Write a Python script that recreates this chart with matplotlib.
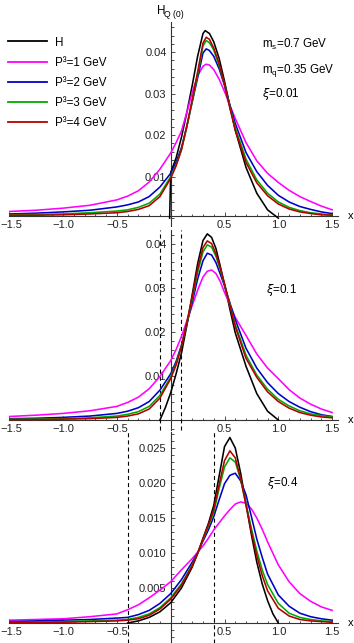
import matplotlib
matplotlib.use('Agg')
import matplotlib.pyplot as plt
import matplotlib.transforms as mtransforms
from matplotlib.ticker import FixedLocator, FixedFormatter, MultipleLocator
from matplotlib.lines import Line2D

plt.rcParams['font.family'] = ['Liberation Sans', 'DejaVu Sans']
plt.rcParams['mathtext.fontset'] = 'dejavusans'

# ---------------- data ----------------
xi_values = [0.01, 0.1, 0.4]
series_labels = ['H', 'P³=1 GeV', 'P³=2 GeV', 'P³=3 GeV', 'P³=4 GeV']

x_grid1 = [-1.5, -1.25, -1.0, -0.75, -0.5, -0.4, -0.3, -0.2, -0.1, 0.0, 0.05, 0.1, 0.15, 0.2, 0.25, 0.3,
           0.33, 0.36, 0.4, 0.45, 0.5, 0.55, 0.6, 0.7, 0.8, 0.9, 1.0, 1.1, 1.2, 1.3, 1.4, 1.5]
p1_xi1 = [0.0016, 0.0019, 0.0024, 0.0031, 0.0044, 0.0053, 0.0066, 0.0087, 0.0118, 0.0157, 0.0182, 0.0210,
          0.0255, 0.0303, 0.0343, 0.0366, 0.0371, 0.0369, 0.0358, 0.0335, 0.0305, 0.0272, 0.0240, 0.0182,
          0.0138, 0.0108, 0.0086, 0.0067, 0.0052, 0.0040, 0.0029, 0.0020]
p2_xi1 = [0.0010, 0.0012, 0.0015, 0.0019, 0.0027, 0.0032, 0.0039, 0.0052, 0.0075, 0.0108, 0.0135, 0.0170,
          0.0222, 0.0280, 0.0338, 0.0398, 0.0408, 0.0404, 0.0390, 0.0360, 0.0320, 0.0272, 0.0228, 0.0158,
          0.0112, 0.0079, 0.0055, 0.0039, 0.0028, 0.0021, 0.0015, 0.0011]
p3_xi1 = [0.0008, 0.0009, 0.0010, 0.0013, 0.0017, 0.0020, 0.0026, 0.0036, 0.0058, 0.0100, 0.0128, 0.0165,
          0.0220, 0.0282, 0.0345, 0.0415, 0.0428, 0.0423, 0.0405, 0.0368, 0.0322, 0.0268, 0.0218, 0.0142,
          0.0092, 0.0060, 0.0039, 0.0026, 0.0018, 0.0013, 0.0010, 0.0008]
p4_xi1 = [0.0007, 0.0007, 0.0008, 0.0010, 0.0013, 0.0016, 0.0021, 0.0030, 0.0052, 0.0096, 0.0126, 0.0165,
          0.0222, 0.0286, 0.0352, 0.0422, 0.0436, 0.0431, 0.0410, 0.0372, 0.0322, 0.0265, 0.0212, 0.0134,
          0.0085, 0.0054, 0.0034, 0.0022, 0.0015, 0.0011, 0.0008, 0.0007]
h_x1 = [-0.01, 0.0, 0.05, 0.1, 0.15, 0.2, 0.25, 0.3, 0.32, 0.36, 0.4, 0.45, 0.5, 0.55, 0.6, 0.7, 0.8, 0.9, 1.0]
h_y1 = [0.0, 0.0110, 0.0145, 0.0195, 0.0255, 0.0320, 0.0390, 0.0445, 0.0452, 0.0445, 0.0425, 0.0385,
        0.0330, 0.0270, 0.0212, 0.0122, 0.0060, 0.0020, 0.0]

x_grid2 = [-1.5, -1.25, -1.0, -0.75, -0.5, -0.4, -0.3, -0.2, -0.1, 0.0, 0.05, 0.1, 0.15, 0.2, 0.25, 0.3,
           0.34, 0.38, 0.42, 0.46, 0.5, 0.55, 0.6, 0.7, 0.8, 0.9, 1.0, 1.1, 1.2, 1.3, 1.4, 1.5]
p1_xi2 = [0.0008, 0.0011, 0.0015, 0.0021, 0.0031, 0.0040, 0.0052, 0.0071, 0.0099, 0.0135, 0.0160, 0.0190,
          0.0225, 0.0260, 0.0295, 0.0325, 0.0338, 0.0341, 0.0333, 0.0315, 0.0290, 0.0262, 0.0233, 0.0192,
          0.0150, 0.0118, 0.0094, 0.0069, 0.0050, 0.0036, 0.0025, 0.0017]
p2_xi2 = [0.0003, 0.0004, 0.0006, 0.0009, 0.0015, 0.0020, 0.0028, 0.0042, 0.0068, 0.0105, 0.0133, 0.0170,
          0.0218, 0.0268, 0.0320, 0.0362, 0.0379, 0.0375, 0.0358, 0.0332, 0.0305, 0.0266, 0.0228, 0.0163,
          0.0118, 0.0085, 0.0060, 0.0042, 0.0029, 0.0019, 0.0012, 0.0008]
p3_xi2 = [0.0002, 0.0002, 0.0003, 0.0005, 0.0009, 0.0013, 0.0019, 0.0031, 0.0056, 0.0098, 0.0128, 0.0168,
          0.0220, 0.0275, 0.0335, 0.0382, 0.0398, 0.0393, 0.0372, 0.0342, 0.0308, 0.0262, 0.0217, 0.0147,
          0.0102, 0.0070, 0.0047, 0.0032, 0.0021, 0.0014, 0.0010, 0.0007]
p4_xi2 = [0.0001, 0.0001, 0.0002, 0.0003, 0.0006, 0.0009, 0.0014, 0.0025, 0.0050, 0.0094, 0.0125, 0.0167,
          0.0222, 0.0280, 0.0343, 0.0392, 0.0407, 0.0401, 0.0378, 0.0346, 0.0310, 0.0260, 0.0212, 0.0140,
          0.0097, 0.0064, 0.0042, 0.0027, 0.0017, 0.0011, 0.0007, 0.0005]
h_x2 = [-0.1, -0.05, 0.0, 0.05, 0.1, 0.15, 0.2, 0.25, 0.3, 0.34, 0.38, 0.42, 0.46, 0.5, 0.55, 0.6, 0.7, 0.8, 0.9, 1.0]
h_y2 = [0.0, 0.0028, 0.0062, 0.0105, 0.0152, 0.0215, 0.0285, 0.0355, 0.0408, 0.0423, 0.0415, 0.0390,
        0.0350, 0.0308, 0.0252, 0.0198, 0.0122, 0.0060, 0.0020, 0.0]

x_grid3 = [-1.5, -1.25, -1.0, -0.75, -0.5, -0.4, -0.3, -0.2, -0.1, 0.0, 0.1, 0.2, 0.25, 0.3, 0.35, 0.4,
           0.45, 0.5, 0.55, 0.6, 0.65, 0.7, 0.75, 0.8, 0.85, 0.9, 1.0, 1.1, 1.2, 1.3, 1.4, 1.5]
p1_xi3 = [0.0004, 0.0005, 0.0006, 0.0009, 0.0013, 0.0019, 0.0026, 0.0036, 0.0047, 0.0059, 0.0076, 0.0092,
          0.0101, 0.0110, 0.0121, 0.0133, 0.0143, 0.0153, 0.0162, 0.0170, 0.0173, 0.0171, 0.0163, 0.0150,
          0.0134, 0.0116, 0.0083, 0.0059, 0.0042, 0.0031, 0.0023, 0.0018]
p2_xi3 = [0.0002, 0.0003, 0.0004, 0.0005, 0.0007, 0.0008, 0.0012, 0.0018, 0.0028, 0.0042, 0.0062, 0.0087,
          0.0100, 0.0117, 0.0133, 0.0152, 0.0176, 0.0199, 0.0211, 0.0214, 0.0203, 0.0183, 0.0152, 0.0120,
          0.0094, 0.0070, 0.0040, 0.0024, 0.0014, 0.0009, 0.0006, 0.0004]
p3_xi3 = [0.0001, 0.0001, 0.0002, 0.0003, 0.0004, 0.0005, 0.0008, 0.0013, 0.0022, 0.0036, 0.0056, 0.0083,
          0.0100, 0.0119, 0.0138, 0.0158, 0.0192, 0.0223, 0.0236, 0.0230, 0.0205, 0.0170, 0.0135, 0.0103,
          0.0076, 0.0055, 0.0028, 0.0014, 0.0008, 0.0005, 0.0003, 0.0002]
p4_xi3 = [0.0001, 0.0001, 0.0001, 0.0002, 0.0003, 0.0004, 0.0006, 0.0011, 0.0020, 0.0034, 0.0054, 0.0082,
          0.0100, 0.0120, 0.0140, 0.0162, 0.0198, 0.0232, 0.0246, 0.0236, 0.0206, 0.0168, 0.0130, 0.0096,
          0.0068, 0.0046, 0.0021, 0.0010, 0.0005, 0.0003, 0.0002, 0.0001]
h_x3 = [-0.4, -0.3, -0.2, -0.1, 0.0, 0.1, 0.2, 0.25, 0.3, 0.35, 0.4, 0.45, 0.5, 0.55, 0.6, 0.65, 0.7, 0.75,
        0.8, 0.85, 0.9, 0.95, 1.0]
h_y3 = [0.0, 0.0003, 0.0008, 0.0016, 0.0029, 0.0050, 0.0080, 0.0099, 0.0121, 0.0142, 0.0168, 0.0210, 0.0252,
        0.0265, 0.0250, 0.0214, 0.0170, 0.0126, 0.0087, 0.0056, 0.0032, 0.0013, 0.0]

x_ticks = [-1.5, -1.0, -0.5, 0.0, 0.5, 1.0, 1.5]
x_ticklabels = ['\u22121.5', '\u22121.0', '\u22120.5', '', '0.5', '1.0', '1.5']
y_ticks_12 = [0.01, 0.02, 0.03, 0.04]
y_ticklabels_12 = ['0.01', '0.02', '0.03', '0.04']
y_ticks_3 = [0.005, 0.010, 0.015, 0.020, 0.025]
y_ticklabels_3 = ['0.005', '0.010', '0.015', '0.020', '0.025']

colors = ['#000000', '#ff00ff', '#0000c8', '#00aa00', '#b40000']

# ---------------- layout ----------------
W, Hpx = 354, 643
fig = plt.figure(figsize=(W / 100, Hpx / 100), dpi=100)


def rect(left, right, top, bottom):
    return [left / W, 1 - bottom / Hpx, (right - left) / W, (bottom - top) / Hpx]


panels = [
    dict(rect=rect(9.3, 337.5, 21.7, 226), ylim=(-0.0019, 0.04735), axis_y=0.0006,
         grid=x_grid1, ser=[p1_xi1, p2_xi1, p3_xi1, p4_xi1], hx=h_x1, hy=h_y1,
         yt=y_ticks_12, ytl=y_ticklabels_12, ymin=0.002, dashed=False),
    dict(rect=rect(9.3, 337.5, 230, 430), ylim=(-0.00227, 0.04318), axis_y=0.0,
         grid=x_grid2, ser=[p1_xi2, p2_xi2, p3_xi2, p4_xi2], hx=h_x2, hy=h_y2,
         yt=y_ticks_12, ytl=y_ticklabels_12, ymin=0.002, dashed=True),
    dict(rect=rect(9.3, 337.5, 432, 643), ylim=(-0.00286, 0.02729), axis_y=0.0,
         grid=x_grid3, ser=[p1_xi3, p2_xi3, p3_xi3, p4_xi3], hx=h_x3, hy=h_y3,
         yt=y_ticks_3, ytl=y_ticklabels_3, ymin=0.001, dashed=True),
]

axcol = '#333333'
axes = []
for i, p in enumerate(panels):
    ax = fig.add_axes(p['rect'])
    ax.set_facecolor('none')
    ax.set_xlim(-1.5, 1.55)
    ax.set_ylim(*p['ylim'])
    for s in ['top', 'right']:
        ax.spines[s].set_visible(False)
    ax.spines['left'].set_position(('data', 0))
    ax.spines['bottom'].set_position(('data', p['axis_y']))
    ax.spines['bottom'].set_bounds(-1.5, 1.55)
    for s in ['left', 'bottom']:
        ax.spines[s].set_color(axcol)
        ax.spines[s].set_linewidth(0.8)
    ax.xaxis.set_major_locator(FixedLocator(x_ticks))
    ax.xaxis.set_major_formatter(FixedFormatter(x_ticklabels))
    ax.xaxis.set_minor_locator(MultipleLocator(0.1))
    ax.yaxis.set_major_locator(FixedLocator(p['yt']))
    ax.yaxis.set_major_formatter(FixedFormatter(p['ytl']))
    ax.yaxis.set_minor_locator(MultipleLocator(p['ymin']))
    ax.tick_params(which='both', direction='in', color=axcol, width=0.6, labelsize=8,
                   labelcolor='#222222')
    ax.tick_params(which='major', length=3.0, pad=3)
    ax.tick_params(which='minor', length=1.8)

    # shift the leftmost x tick label slightly right so it stays inside the figure
    first_label = ax.xaxis.get_major_ticks()[0].label1
    first_label.set_transform(first_label.get_transform() +
                              mtransforms.ScaledTranslation(2.5 / 100, 0, fig.dpi_scale_trans))

    # curves
    ax.plot(p['hx'], p['hy'], color=colors[0], lw=1.15, zorder=3, label=series_labels[0])
    for k, ys in enumerate(p['ser']):
        ax.plot(p['grid'], ys, color=colors[k + 1], lw=1.15, zorder=3 + k * 0.1,
                label=series_labels[k + 1])

    if p['dashed']:
        xi = xi_values[i]
        for xv in (-xi, xi):
            ax.axvline(xv, color='black', lw=0.8, ls=(0, (3.6, 2.8)), zorder=2.8, clip_on=False)

    ax.text(1.648, p['axis_y'], 'x', fontsize=8, va='center', ha='left', clip_on=False)
    axes.append(ax)

# legend in top panel
handles = [Line2D([], [], color=c, lw=1.3) for c in colors]
fig.legend(handles, series_labels, loc='upper left', bbox_to_anchor=(8 / W, 1 - 36.5 / Hpx),
           frameon=False, fontsize=8.4, handlelength=3.3, handletextpad=0.7,
           labelspacing=0.7, borderpad=0, borderaxespad=0)

# annotations
tfs = 8.4
fig.text(262 / W, 1 - 44 / Hpx, r'm$_\mathregular{s}$=0.7 GeV', fontsize=tfs, va='center')
fig.text(262 / W, 1 - 70.5 / Hpx, r'm$_\mathregular{q}$=0.35 GeV', fontsize=tfs, va='center')
fig.text(262 / W, 1 - 93.5 / Hpx, r'$\xi$=0.01', fontsize=tfs, va='center')
fig.text(266 / W, 1 - 290 / Hpx, r'$\xi$=0.1', fontsize=tfs, va='center')
fig.text(267 / W, 1 - 483 / Hpx, r'$\xi$=0.4', fontsize=tfs, va='center')
# y-axis label H_Q(0)
fig.text(157 / W, 1 - 11 / Hpx, 'H', fontsize=8.4, va='center')
fig.text(164.5 / W, 1 - 14.5 / Hpx, 'Q (0)', fontsize=6.2, va='center')

fig.savefig('out.png', dpi=100)
